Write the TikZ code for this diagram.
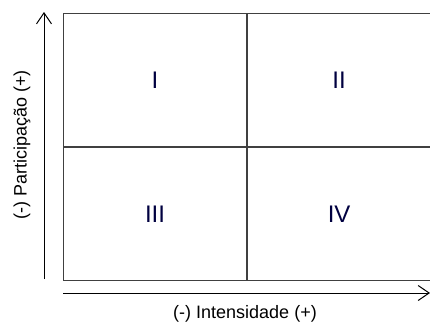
\documentclass[tikz,border=0pt]{standalone}
\usepackage{fontspec}
\setmainfont{Liberation Sans}
\usetikzlibrary{arrows.meta,positioning}
\tikzset{
  quad/.style={draw=black!75, line width=1.1pt, minimum width=183pt, minimum height=133pt,
    inner sep=0pt, font=\fontsize{24}{24}\selectfont, text=black!75!blue},
  axis/.style={line width=1pt, -{Straight Barb[length=11pt,width=15pt]}},
  eixo/.style={font=\fontsize{18}{18}\selectfont, inner sep=0pt}
}
\begin{document}
\begin{tikzpicture}[x=1pt,y=-1pt]
\useasboundingbox (0,0) rectangle (430,324);
% quadrantes
\node[quad, anchor=north west] (q1) at (63,13) {I};
\node[quad, right=0pt of q1] (q2) {II};
\node[quad, below=0pt of q1] (q3) {III};
\node[quad, right=0pt of q3] (q4) {IV};
% eixos
\coordinate (yo) at (44,279);
\coordinate (yt) at (44,12);
\coordinate (xo) at (63,293);
\coordinate (xt) at (430,293);
\draw[axis] (yo) -- (yt);
\draw[axis] (xo) -- (xt);
\node[eixo, rotate=90] (lbly) at (22,145) {(-) Participação (+)};
\node[eixo] (lblx) at (245,314) {(-) Intensidade (+)};
\end{tikzpicture}
\end{document}
